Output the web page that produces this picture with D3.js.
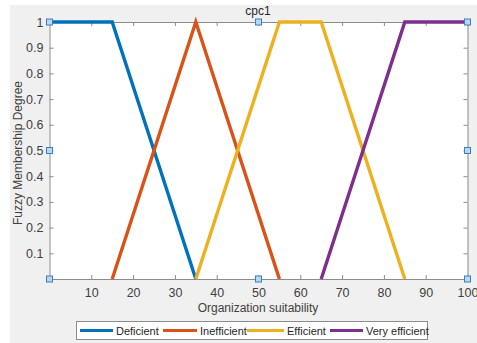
<!DOCTYPE html>
<html><head><meta charset="utf-8">
<script src="https://cdn.jsdelivr.net/npm/d3@7"></script>
<style>body{margin:0;background:#fff;}svg{display:block;font-family:"Liberation Sans",Arial,sans-serif;}</style>
</head><body>
<svg id="c" width="477" height="343"></svg>
<script>
const seriesNames = ["Deficient","Inefficient","Efficient","Very efficient"];
const seriesColors = ["#0072BD","#D95319","#EDB120","#7E2F8E"];
const deficientX = [0, 15, 35];
const deficientY = [1, 1, 0];
const inefficientX = [15, 35, 55];
const inefficientY = [0, 1, 0];
const efficientX = [35, 55, 65, 85];
const efficientY = [0, 1, 1, 0];
const veryEfficientX = [65, 85, 100];
const veryEfficientY = [0, 1, 1];
const xTicks = [10,20,30,40,50,60,70,80,90,100];
const yTicks = [0.1,0.2,0.3,0.4,0.5,0.6,0.7,0.8,0.9,1];
const handleX = [0,0,0,50,50,100,100,100];
const handleY = [0,0.5,1,0,1,0,0.5,1];
const titleText = "cpc1";
const xLabel = "Organization suitability";
const yLabel = "Fuzzy Membership Degree";

const svg = d3.select("#c");
const L=49.5, R=467.5, T=22, B=279;
svg.append("rect").attr("x",10).attr("y",5).attr("width",467).attr("height",338).attr("fill","#f0f0f0");
svg.append("rect").attr("x",L).attr("y",T).attr("width",R-L).attr("height",B-T).attr("fill","#fff");

const x = d3.scaleLinear().domain([0,100]).range([L,R]);
const y = d3.scaleLinear().domain([0,1]).range([B,T]);

const axisColor="#8c8c8c", textColor="#404040";
function styleAxis(g, showText){
  g.select(".domain").attr("stroke",axisColor).attr("stroke-width",1);
  g.selectAll(".tick line").attr("stroke",axisColor);
  g.selectAll(".tick text").attr("fill",textColor).style("font-size","12.5px").style("font-family","Liberation Sans, Arial, sans-serif");
  if(!showText) g.selectAll(".tick text").remove();
}
const gx = svg.append("g").attr("transform",`translate(0,${B})`)
  .call(d3.axisBottom(x).tickValues(xTicks).tickSizeInner(-4).tickSizeOuter(0).tickPadding(9));
styleAxis(gx,true);
const gxt = svg.append("g").attr("transform",`translate(0,${T})`)
  .call(d3.axisTop(x).tickValues(xTicks).tickSizeInner(-4).tickSizeOuter(0));
styleAxis(gxt,false);
const gy = svg.append("g").attr("transform",`translate(${L},0)`)
  .call(d3.axisLeft(y).tickValues(yTicks).tickSizeInner(-4).tickSizeOuter(0).tickFormat(d3.format("~g")).tickPadding(6));
styleAxis(gy,true);
const gyr = svg.append("g").attr("transform",`translate(${R},0)`)
  .call(d3.axisRight(y).tickValues(yTicks).tickSizeInner(-4).tickSizeOuter(0));
styleAxis(gyr,false);

const line = d3.line().x(d=>x(d[0])).y(d=>y(d[1]));
const series = [
  d3.zip(deficientX, deficientY),
  d3.zip(inefficientX, inefficientY),
  d3.zip(efficientX, efficientY),
  d3.zip(veryEfficientX, veryEfficientY)
];
series.forEach((s,i)=>{
  svg.append("path").attr("d",line(s)).attr("fill","none").attr("stroke",seriesColors[i])
    .attr("stroke-width",3.4).attr("stroke-linejoin","miter");
});

handleX.forEach((hx,i)=>{
  svg.append("rect").attr("x",x(hx)-3).attr("y",y(handleY[i])-3).attr("width",6).attr("height",6)
    .attr("fill","#b9d7f0").attr("stroke","#3a80c0").attr("stroke-width",1);
});

svg.append("text").attr("x",258).attr("y",15).attr("text-anchor","middle")
  .attr("fill","#262626").style("font-size","12px").text(titleText);
svg.append("text").attr("x",258).attr("y",312).attr("text-anchor","middle")
  .attr("fill",textColor).style("font-size","12px").text(xLabel);
svg.append("text").attr("transform","translate(22,153) rotate(-90)").attr("text-anchor","middle")
  .attr("fill",textColor).style("font-size","12px").text(yLabel);

// legend
svg.append("rect").attr("x",76.5).attr("y",321.5).attr("width",351).attr("height",18)
  .attr("fill","#fff").attr("stroke","#8c8c8c").attr("stroke-width",1);
const legLineX = [80,163,247,330];
const legLineW = [33,34,37,33];
seriesNames.forEach((n,i)=>{
  svg.append("line").attr("x1",legLineX[i]).attr("x2",legLineX[i]+legLineW[i]).attr("y1",330.5).attr("y2",330.5)
    .attr("stroke",seriesColors[i]).attr("stroke-width",3.2);
  svg.append("text").attr("x",legLineX[i]+legLineW[i]+3).attr("y",334.5).attr("fill","#262626")
    .style("font-size","11px").text(n);
});
</script>
</body></html>
